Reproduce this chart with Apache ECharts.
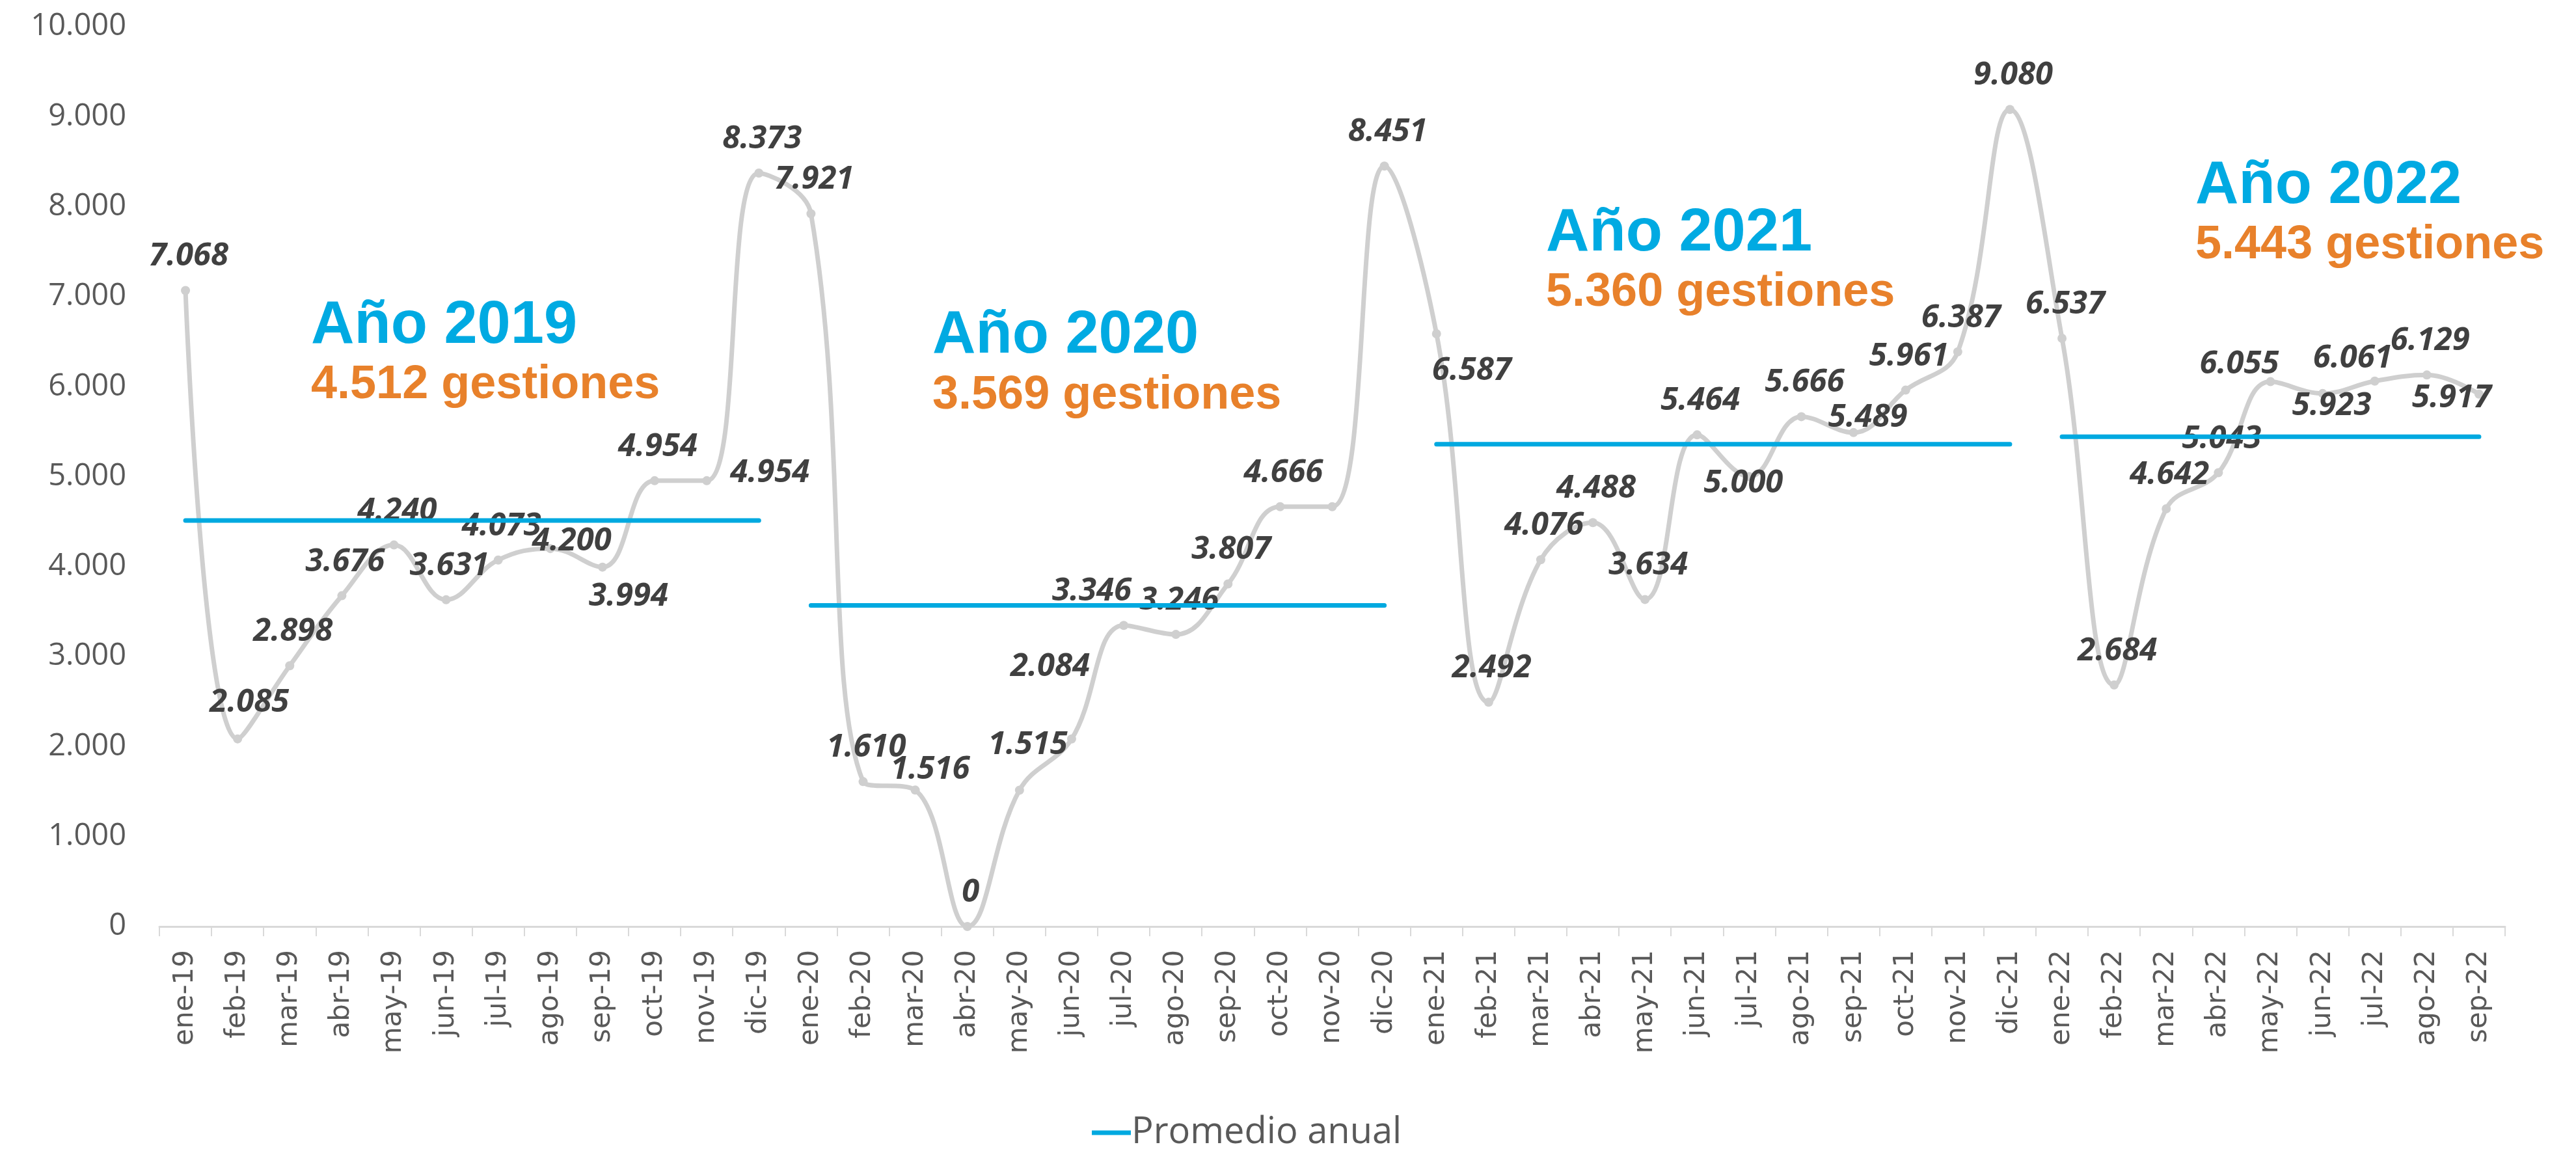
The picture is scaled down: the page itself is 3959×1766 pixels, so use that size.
<!DOCTYPE html>
<html>
<head>
<meta charset="utf-8">
<script src="https://cdn.jsdelivr.net/npm/echarts@6/dist/echarts.min.js"></script>
<style>
  html, body { margin: 0; padding: 0; background: #ffffff; }
  #chart { width: 3959px; height: 1766px; }
</style>
</head>
<body>
<div id="chart"></div>
<script>
// ---- data ----
const months = [
  'ene-19','feb-19','mar-19','abr-19','may-19','jun-19','jul-19','ago-19','sep-19','oct-19','nov-19','dic-19',
  'ene-20','feb-20','mar-20','abr-20','may-20','jun-20','jul-20','ago-20','sep-20','oct-20','nov-20','dic-20',
  'ene-21','feb-21','mar-21','abr-21','may-21','jun-21','jul-21','ago-21','sep-21','oct-21','nov-21','dic-21',
  'ene-22','feb-22','mar-22','abr-22','may-22','jun-22','jul-22','ago-22','sep-22'
];
const gestiones2019 = [7068, 2085, 2898, 3676, 4240, 3631, 4073, 4200, 3994, 4954, 4954, 8373];
const gestiones2020 = [7921, 1610, 1516, 0, 1515, 2084, 3346, 3246, 3807, 4666, 4666, 8451];
const gestiones2021 = [6587, 2492, 4076, 4488, 3634, 5464, 5000, 5666, 5489, 5961, 6387, 9080];
const gestiones2022 = [6537, 2684, 4642, 5043, 6055, 5923, 6061, 6129, 5917];
const years = ['2019', '2020', '2021', '2022'];
const yearAverages = [4512, 3569, 5360, 5443];
const yTicks = [0, 1000, 2000, 3000, 4000, 5000, 6000, 7000, 8000, 9000, 10000];

// ---- styling (not data): label nudges relative to each point, hidden labels, title spots ----
const defaultNudge = [5, -52];
const labelNudge = {
  1: [18, -56], 7: [33, -11], 8: [40, 45], 10: [97, -12], 14: [23, -31], 16: [13, -69],
  17: [-33, -111], 18: [-49, -52], 24: [54, 57], 30: [-9, 11], 32: [22, -23],
  40: [-48, -27], 41: [14, 19], 42: [-34, -35], 44: [-42, 6]
};
const hiddenLabels = [22];
const titleSpots = [
  { x: 478,  y1: 502, y2: 592 },
  { x: 1433, y1: 517, y2: 608 },
  { x: 2376, y1: 360, y2: 450 },
  { x: 3374, y1: 287, y2: 377 }
];

const fmt = v => String(Math.round(v)).replace(/\B(?=(\d{3})+(?!\d))/g, '.');

const yearData = [gestiones2019, gestiones2020, gestiones2021, gestiones2022];
const allValues = [].concat(...yearData);

const mainData = allValues.map((v, i) => {
  if (hiddenLabels.indexOf(i) >= 0) return { value: v, label: { show: false } };
  const n = labelNudge[i] || defaultNudge;
  return { value: v, label: { show: true, position: 'inside', offset: [n[0], n[1]] } };
});

const avgSeries = [];
let offset = 0;
yearData.forEach((arr, k) => {
  const d = months.map((m, i) => (i >= offset && i < offset + arr.length) ? yearAverages[k] : null);
  avgSeries.push({
    name: 'Promedio anual',
    type: 'line',
    data: d,
    symbol: 'none',
    connectNulls: false,
    color: '#00A9E0',
    lineStyle: { color: '#00A9E0', width: 7, cap: 'round' },
    z: 3,
    silent: true
  });
  offset += arr.length;
});

const graphics = [];
years.forEach((y, k) => {
  graphics.push({
    type: 'text', left: titleSpots[k].x, top: titleSpots[k].y1 - 46,
    style: { text: 'Año ' + y, fill: '#00AAE2', font: 'bold 92px "Liberation Sans", Arial, sans-serif' }
  });
  graphics.push({
    type: 'text', left: titleSpots[k].x, top: titleSpots[k].y2 - 36,
    style: { text: fmt(yearAverages[k]) + ' gestiones', fill: '#E8812B', font: 'bold 72px "Liberation Sans", Arial, sans-serif' }
  });
});

const chart = echarts.init(document.getElementById('chart'), null, { renderer: 'canvas' });
chart.setOption({
  backgroundColor: '#ffffff',
  animation: false,
  grid: { left: 245, right: 109, top: 41, bottom: 342, containLabel: false },
  legend: {
    data: ['Promedio anual'],
    left: 1673, top: 1708,
    icon: 'rect', itemWidth: 60, itemHeight: 7, itemGap: 20,
    textStyle: { fontFamily: '"Open Sans", sans-serif', fontSize: 56, color: '#595959', padding: [0, 0, 0, -4] }
  },
  xAxis: {
    type: 'category',
    data: months,
    boundaryGap: true,
    axisLine: { lineStyle: { color: '#D9D9D9', width: 3 } },
    axisTick: { show: true, length: 15, lineStyle: { color: '#D9D9D9', width: 2 } },
    axisLabel: {
      interval: 0, rotate: 90, margin: 36,
      fontFamily: '"DejaVu Sans", sans-serif', fontSize: 42, color: '#595959'
    },
    splitLine: { show: false }
  },
  yAxis: {
    type: 'value',
    min: yTicks[0], max: yTicks[yTicks.length - 1], interval: 1000,
    axisLine: { show: false }, axisTick: { show: false },
    splitLine: { show: false },
    axisLabel: {
      margin: 51, fontFamily: '"Open Sans", sans-serif', fontSize: 47, color: '#595959',
      formatter: v => fmt(v)
    }
  },
  series: [
    {
      name: 'Gestiones',
      type: 'line',
      data: mainData,
      smooth: 0.4,
      symbol: 'circle',
      symbolSize: 14,
      color: '#CFCFCF',
      itemStyle: { color: '#CFCFCF' },
      lineStyle: { color: '#CFCFCF', width: 7 },
      z: 2,
      label: {
        show: true, position: 'inside',
        fontFamily: '"Open Sans", sans-serif', fontWeight: 'bold', fontStyle: 'italic',
        fontSize: 49, color: '#404040',
        formatter: p => fmt(p.value)
      }
    },
    ...avgSeries
  ],
  graphic: graphics
});
</script>
</body>
</html>
